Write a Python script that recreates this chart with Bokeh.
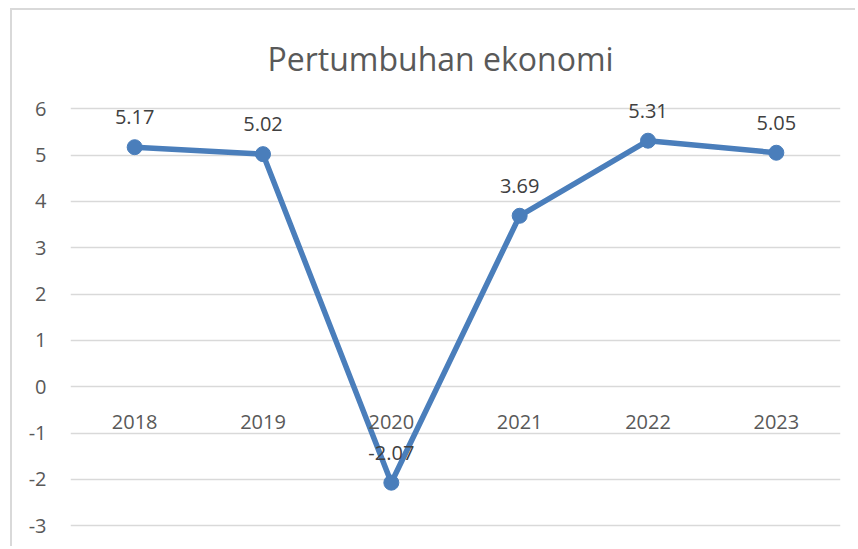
from bokeh.plotting import figure
from bokeh.models import ColumnDataSource, FixedTicker, Range1d, FactorRange
from bokeh.core.properties import value
from bokeh.embed import file_html
from bokeh.resources import INLINE

years = ["2018", "2019", "2020", "2021", "2022", "2023"]
growth = [5.17, 5.02, -2.07, 3.69, 5.31, 5.05]
labels = ["5.17", "5.02", "-2.07", "3.69", "5.31", "5.05"]
y_ticks = [-3, -2, -1, 0, 1, 2, 3, 4, 5, 6]
y_tick_labels = {t: str(t) for t in y_ticks}

FONT = "Open Sans"
BLUE = "#4a7ebb"

src = ColumnDataSource(dict(x=years, y=growth, t=labels))

p = figure(width=845, height=538, x_range=FactorRange(*years),
           y_range=Range1d(-3.49, 6.35), output_backend="svg",
           toolbar_location=None, min_border_left=58, min_border_right=17,
           min_border_top=82, min_border_bottom=0)
p.styles = {"border-left": "2px solid #d9d9d9", "border-top": "2px solid #d9d9d9",
            "margin-left": "10px", "margin-top": "8px"}
p.outline_line_color = None
p.background_fill_color = "white"
p.border_fill_color = "white"

p.title.text = "Pertumbuhan ekonomi"
p.title.text_font = FONT
p.title.text_font_size = "32px"
p.title.text_font_style = "normal"
p.title.text_color = "#595959"
p.title.align = "left"
p.title.standoff = 26
p.title.offset = 197

p.line("x", "y", source=src, line_color=BLUE, line_width=5.5)
p.scatter("x", "y", source=src, size=15, fill_color=BLUE, line_color=BLUE)
p.text("x", "y", text="t", source=src, y_offset=-30, text_align="center",
       text_baseline="middle", text_font=value(FONT), text_font_size="20px",
       text_color="#404040")

p.yaxis.ticker = FixedTicker(ticks=y_ticks)
p.yaxis.major_label_overrides = y_tick_labels
p.yaxis.axis_line_color = None
p.yaxis.major_tick_line_color = None
p.yaxis.minor_tick_line_color = None
p.yaxis.major_label_standoff = 18
p.yaxis.major_label_text_font = FONT
p.yaxis.major_label_text_font_size = "20px"
p.yaxis.major_label_text_color = "#595959"

p.xaxis.fixed_location = 0
p.xaxis.axis_line_color = None
p.xaxis.major_tick_line_color = None
p.xaxis.major_label_standoff = 22
p.xaxis.major_label_text_font = FONT
p.xaxis.major_label_text_font_size = "20px"
p.xaxis.major_label_text_color = "#595959"

p.xgrid.grid_line_color = None
p.ygrid.ticker = FixedTicker(ticks=y_ticks)
p.ygrid.grid_line_color = "#d9d9d9"
p.ygrid.grid_line_width = 1.5

open("out.html", "w").write(file_html(p, INLINE))
